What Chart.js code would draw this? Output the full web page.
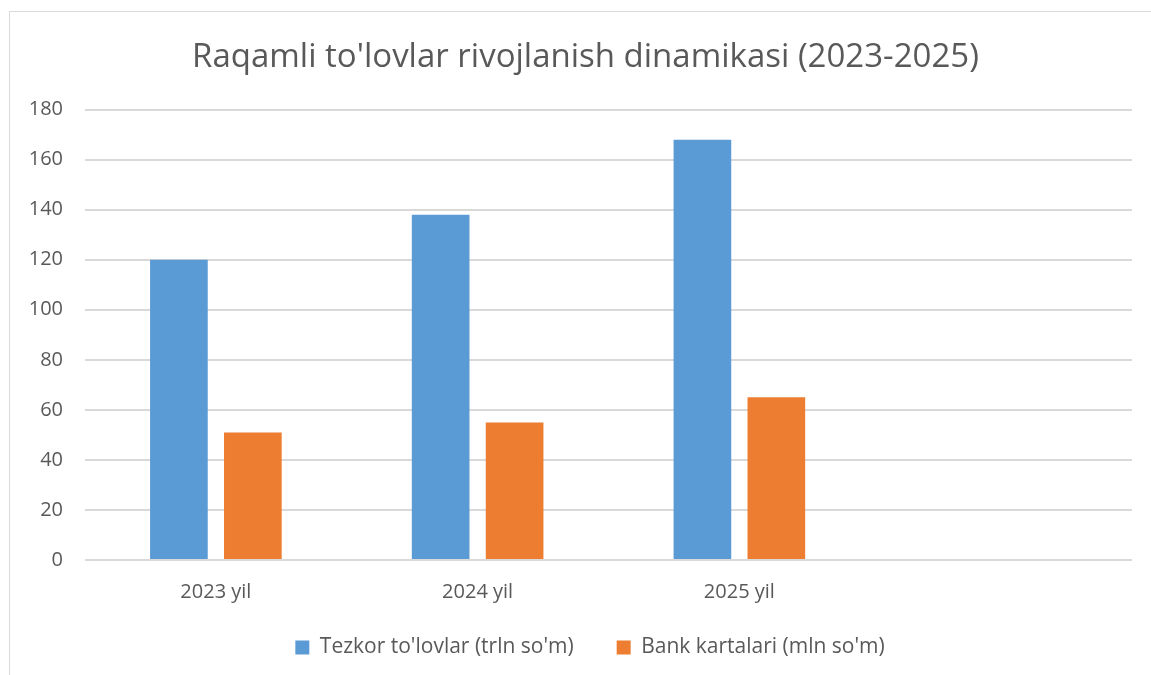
<!DOCTYPE html>
<html>
<head>
<meta charset="utf-8">
<script src="https://cdn.jsdelivr.net/npm/chart.js@4.4.0/dist/chart.umd.min.js"></script>
<style>
  html, body { margin: 0; padding: 0; background: #ffffff; overflow: hidden; }
  #frame { position: absolute; left: 9px; top: 11px; width: 1200px; height: 700px; border: 1px solid #d9d9d9; box-sizing: border-box; }
  #wrap { position: absolute; left: 0; top: 0; width: 1151px; height: 675px; }
</style>
</head>
<body>
<div id="frame"></div>
<div id="wrap"><canvas id="c" width="1151" height="675"></canvas></div>
<script>
const chartTitle = "Raqamli to'lovlar rivojlanish dinamikasi (2023-2025)";
const categories = ['2023 yil', '2024 yil', '2025 yil', ''];
const seriesNames = ["Tezkor to'lovlar (trln so'm)", "Bank kartalari (mln so'm)"];
const tezkorValues = [120, 138, 168, null];
const bankValues = [51, 55, 65, null];
const yTicks = [0, 20, 40, 60, 80, 100, 120, 140, 160, 180];

const FONT = "'Open Sans', 'Noto Sans', sans-serif";
const TEXT = '#595959';

// The original chart frame extends past the right edge of the view,
// so its title and legend are centred a little right of the canvas centre.
// The legend uses a wide item gap but a compact box height.
const frameAlign = {
  id: 'frameAlign',
  beforeLayout(chart) {
    const lg = chart.legend;
    if (lg && !lg.__wrapped) {
      const origFit = lg.fit;
      lg.fit = function () { origFit.call(this); this.height = 65; };
      lg.__wrapped = true;
    }
  },
  afterLayout(chart) {
    const t = chart.titleBlock;
    if (t) { t.left += 39; }
    const lg = chart.legend;
    if (lg) { lg.left += 24; lg.right += 24; lg.top -= 16; lg.bottom -= 16; }
  }
};

new Chart(document.getElementById('c'), {
  type: 'bar',
  data: {
    labels: categories,
    datasets: [
      { label: seriesNames[0], data: tezkorValues, backgroundColor: '#5B9BD5', borderWidth: 0,
        categoryPercentage: 0.565, barPercentage: 0.78 },
      { label: seriesNames[1], data: bankValues, backgroundColor: '#ED7D31', borderWidth: 0,
        categoryPercentage: 0.565, barPercentage: 0.78 }
    ]
  },
  plugins: [frameAlign],
  options: {
    responsive: false,
    animation: false,
    layout: { padding: { left: 0, right: 19, top: 0, bottom: 0 } },
    plugins: {
      title: {
        display: true, text: chartTitle, color: TEXT,
        font: { family: FONT, size: 33, weight: 'normal' },
        padding: { top: 38, bottom: 32 }
      },
      legend: {
        position: 'bottom',
        labels: {
          color: TEXT, font: { family: FONT, size: 21 },
          boxWidth: 14, boxHeight: 14, padding: 43
        }
      },
      tooltip: { enabled: false }
    },
    scales: {
      x: {
        grid: { display: false },
        border: { display: false },
        ticks: { color: TEXT, font: { family: FONT, size: 20 }, padding: 12, maxRotation: 0 },
        afterFit: (s) => { s.height = 50; }
      },
      y: {
        min: 0, max: 180,
        afterBuildTicks: (s) => { s.ticks = yTicks.map(v => ({ value: v })); },
        grid: { color: '#d9d9d9', lineWidth: 2, drawTicks: false },
        border: { display: false },
        ticks: { color: TEXT, font: { family: FONT, size: 20 }, padding: 22 },
        afterFit: (s) => { s.width = 85; }
      }
    }
  }
});
</script>
</body>
</html>
